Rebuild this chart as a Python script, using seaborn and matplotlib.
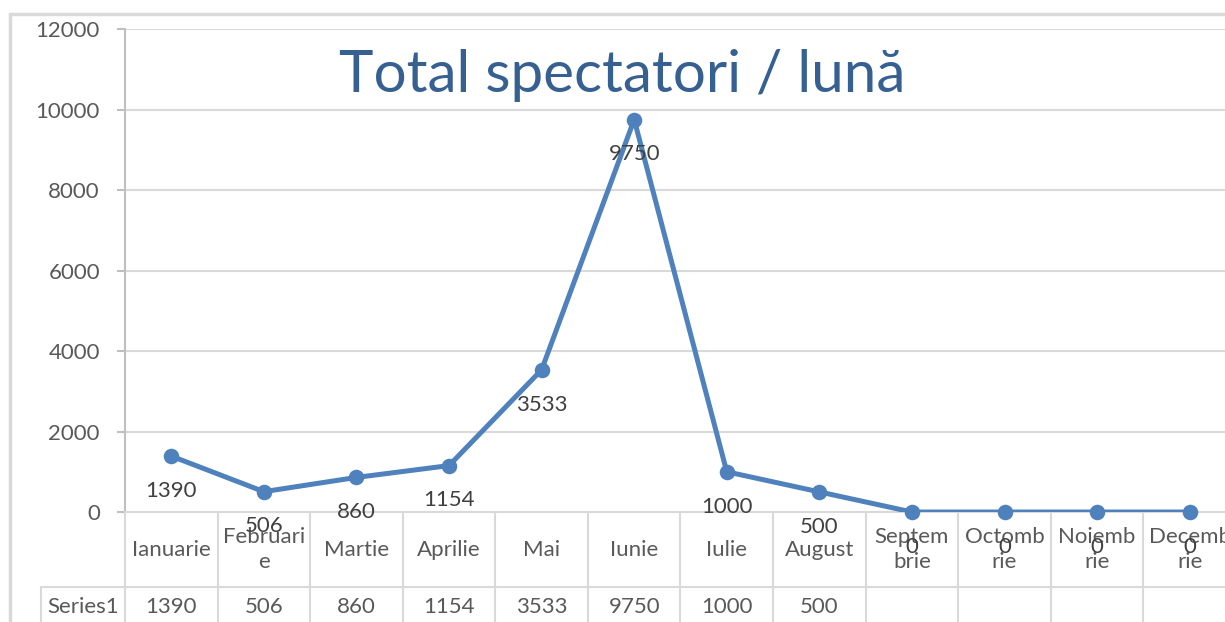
import numpy as np
import pandas as pd
import matplotlib.pyplot as plt
from matplotlib.lines import Line2D
import seaborn as sns

# date
luni = ['Ianuarie', 'Februarie', 'Martie', 'Aprilie', 'Mai', 'Iunie',
        'Iulie', 'August', 'Septembrie', 'Octombrie', 'Noiembrie', 'Decembrie']
etichete_luni = ['Ianuarie', 'Februari\ne', 'Martie', 'Aprilie', 'Mai', 'Iunie',
                 'Iulie', 'August', 'Septem\nbrie', 'Octomb\nrie', 'Noiemb\nrie', 'Decemb\nrie']
spectatori = [1390, 506, 860, 1154, 3533, 9750, 1000, 500, 0, 0, 0, 0]
celule_tabel = ['1390', '506', '860', '1154', '3533', '9750', '1000', '500', '', '', '', '']
nume_serie = 'Series1'
titlu = 'Total spectatori / lună'

df = pd.DataFrame({'luna': luni, 'poz': np.arange(len(luni)), 'spectatori': spectatori})

sns.set_theme(style='white')
plt.rcParams['font.family'] = ['Lato', 'DejaVu Sans']

albastru = '#4F81BD'
gri_linie = '#D9D9D9'
gri_text = '#595959'

fig = plt.figure(figsize=(12.25, 6.22), dpi=100)
ax = fig.add_axes([0.1020, 0.1768, 0.9070, 0.7765])

sns.lineplot(data=df, x='poz', y='spectatori', ax=ax, color=albastru, linewidth=3.6, zorder=3)
sns.scatterplot(data=df, x='poz', y='spectatori', ax=ax, color=albastru, s=125,
                edgecolor=albastru, linewidth=0, zorder=4, clip_on=False)

ax.set_xlim(-0.5, len(luni) - 0.5)
ax.set_ylim(0, 12000)
ax.set_yticks(range(0, 12001, 2000))
ax.set_xlabel('')
ax.set_ylabel('')

# grila orizontala
ax.grid(axis='y', color=gri_linie, linewidth=1.5)
ax.grid(axis='x', visible=False)
for s in ['top', 'right']:
    ax.spines[s].set_visible(False)
ax.spines['left'].set_color('#BFBFBF')
ax.spines['left'].set_linewidth(1.5)
ax.spines['bottom'].set_color(gri_linie)
ax.spines['bottom'].set_linewidth(1.5)

ax.tick_params(axis='y', left=True, length=6, width=1.5, color='#BFBFBF',
               pad=12, labelsize=16, labelcolor=gri_text)

# etichetele lunilor = capul tabelului
ax.set_xticks(df['poz'], labels=etichete_luni)
ax.tick_params(axis='x', bottom=False, length=0, pad=27, labelsize=16, labelcolor=gri_text)
for lbl in ax.get_xticklabels():
    lbl.set_verticalalignment('center')
    lbl.set_linespacing(1.35)

# etichete de date sub puncte
for x, v in zip(df['poz'], spectatori):
    ax.annotate(str(v), (x, v), xytext=(0, -25), textcoords='offset points',
                ha='center', va='center', fontsize=16, color='#404040', zorder=5,
                annotation_clip=False)

# tabelul de date
tr = ax.get_xaxis_transform()
y_rand = -0.1553
y_jos = -0.24
margini = np.arange(-0.5, len(luni) + 0.5, 1)
ax.vlines(margini, y_jos, 0, transform=tr, colors=gri_linie, linewidth=1.5, clip_on=False)
ax.plot([-1.41, len(luni)], [y_rand, y_rand], transform=tr, color=gri_linie,
        linewidth=1.5, clip_on=False)
ax.plot([-1.41, -1.41], [y_jos, y_rand], transform=tr, color=gri_linie,
        linewidth=1.5, clip_on=False)
ax.text(-0.955, -0.197, nume_serie, transform=tr, ha='center', va='center',
        fontsize=16, color=gri_text, clip_on=False)
for x, t in zip(df['poz'], celule_tabel):
    ax.text(x, -0.197, t, transform=tr, ha='center', va='center',
            fontsize=16, color=gri_text, clip_on=False)

# titlu
fig.text(0.508, 0.878, titlu, ha='center', va='center', fontsize=42, color='#376092')

# chenarul graficului
fig.add_artist(Line2D([10 / 1225, 10 / 1225], [0, 1 - 14 / 622], color=gri_linie, linewidth=2.5))
fig.add_artist(Line2D([10 / 1225, 1], [1 - 14 / 622, 1 - 14 / 622], color=gri_linie, linewidth=2.5))

fig.savefig('out.png', dpi=100)
